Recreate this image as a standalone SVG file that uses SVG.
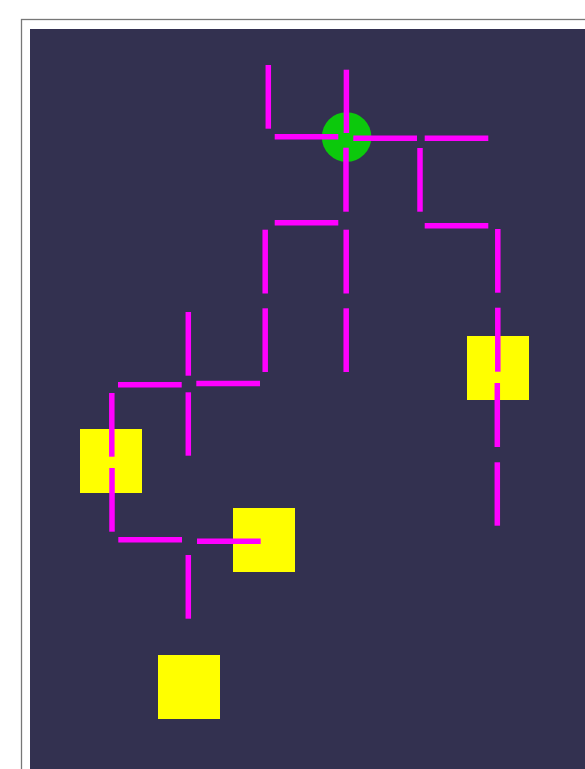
<svg xmlns="http://www.w3.org/2000/svg" width="585" height="769" viewBox="0 0 585 769">
<style>
.seg{stroke:#ff00ff;stroke-width:5.5;fill:none;stroke-linecap:butt}
.box{fill:#ffff00}
</style>
<rect x="0" y="0" width="585" height="769" fill="#ffffff"/>
<rect x="21.5" y="19.5" width="600" height="800" fill="#ffffff" stroke="#777777" stroke-width="1.3"/>
<rect x="30" y="29" width="560" height="745" fill="#333150"/>
<g id="goal"><circle cx="346.6" cy="137" r="24.8" fill="#0cc90c"/></g>
<g id="box1"><rect class="box" x="467" y="336" width="62" height="64"/></g>
<g id="box2"><rect class="box" x="80" y="429" width="62" height="64"/></g>
<g id="box3"><rect class="box" x="233" y="508" width="62" height="64"/></g>
<g id="box4"><rect class="box" x="158" y="655" width="62" height="64"/></g>
<g id="connectors">
<line class="seg" x1="268.3" y1="65" x2="268.3" y2="128.7"/>
<line class="seg" x1="346.4" y1="69.7" x2="346.4" y2="133"/>
<line class="seg" x1="346" y1="147.7" x2="346" y2="211.7"/>
<line class="seg" x1="420" y1="148" x2="420" y2="211.7"/>
<line class="seg" x1="265.2" y1="229.7" x2="265.2" y2="293.5"/>
<line class="seg" x1="265.2" y1="308.3" x2="265.2" y2="372"/>
<line class="seg" x1="346.2" y1="229.7" x2="346.2" y2="293.5"/>
<line class="seg" x1="346.2" y1="308.3" x2="346.2" y2="372"/>
<line class="seg" x1="497.8" y1="229" x2="497.8" y2="292.7"/>
<line class="seg" x1="497.8" y1="307.7" x2="497.8" y2="371.7"/>
<line class="seg" x1="497.3" y1="383" x2="497.3" y2="447"/>
<line class="seg" x1="497.3" y1="462.3" x2="497.3" y2="525.7"/>
<line class="seg" x1="188.3" y1="312" x2="188.3" y2="375.7"/>
<line class="seg" x1="188.3" y1="392.3" x2="188.3" y2="455.7"/>
<line class="seg" x1="111.8" y1="393" x2="111.8" y2="456.7"/>
<line class="seg" x1="112" y1="468" x2="112" y2="531.7"/>
<line class="seg" x1="188.3" y1="555" x2="188.3" y2="618.7"/>
<line class="seg" x1="274.7" y1="136.8" x2="338.3" y2="136.8"/>
<line class="seg" x1="353.3" y1="138.3" x2="417" y2="138.3"/>
<line class="seg" x1="424.7" y1="138.3" x2="488.3" y2="138.3"/>
<line class="seg" x1="274.7" y1="222.8" x2="338.3" y2="222.8"/>
<line class="seg" x1="424.7" y1="225.8" x2="488.3" y2="225.8"/>
<line class="seg" x1="118" y1="384.8" x2="181.7" y2="384.8"/>
<line class="seg" x1="196.3" y1="383.5" x2="260" y2="383.5"/>
<line class="seg" x1="118.3" y1="539.8" x2="182" y2="539.8"/>
<line class="seg" x1="197" y1="541.2" x2="260.7" y2="541.2"/>
</g>
</svg>
